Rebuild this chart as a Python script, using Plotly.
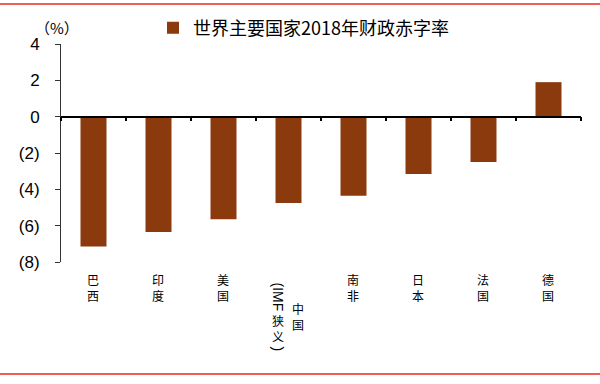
import plotly.graph_objects as go

categories = ["巴西", "印度", "美国", "中国（IMF狭义）", "南非", "日本", "法国", "德国"]
values = [-7.15, -6.35, -5.65, -4.75, -4.35, -3.15, -2.5, 1.9]
series_name = "世界主要国家2018年财政赤字率"
tick_vals = [4, 2, 0, -2, -4, -6, -8]
tick_text = ["4", "2", "0", "(2)", "(4)", "(6)", "(8)"]

BAR_COLOR = "#8B3A0E"
CJK = "Noto Sans CJK SC"
LAT = "Liberation Sans"

fig = go.Figure()
fig.add_trace(go.Bar(
    x=categories, y=values, name=series_name,
    marker=dict(color=BAR_COLOR, line=dict(width=0)),
    width=0.4, showlegend=True,
))

annotations = []
lbl_font = dict(family=CJK, size=12, color="black")
for cat in categories:
    if "（" in cat:
        main = cat[:cat.index("（")]
        paren = cat[cat.index("（") + 1:-1]          # IMF狭义
        latin = "".join(c for c in paren if c.isascii())
        cjk = "".join(c for c in paren if not c.isascii())
        annotations.append(dict(x=cat, y=0, xref="x", yref="paper", text="<br>".join(main),
                                showarrow=False, xanchor="center", yanchor="top",
                                xshift=9, yshift=-37, font=lbl_font, borderpad=0))
        annotations.append(dict(x=cat, y=0, xref="x", yref="paper", text="(" + latin,
                                showarrow=False, xanchor="center", yanchor="middle",
                                xshift=-11, yshift=-35, textangle=90, borderpad=0,
                                font=dict(family=LAT, size=14, color="black")))
        annotations.append(dict(x=cat, y=0, xref="x", yref="paper", text="<br>".join(cjk),
                                showarrow=False, xanchor="center", yanchor="top",
                                xshift=-11, yshift=-49, font=lbl_font, borderpad=0))
        annotations.append(dict(x=cat, y=0, xref="x", yref="paper", text=")",
                                showarrow=False, xanchor="center", yanchor="middle",
                                xshift=-11, yshift=-87, textangle=90, borderpad=0,
                                font=dict(family=LAT, size=14, color="black")))
    else:
        annotations.append(dict(x=cat, y=0, xref="x", yref="paper", text="<br>".join(cat),
                                showarrow=False, xanchor="center", yanchor="top",
                                xshift=-1, yshift=-8, font=lbl_font, borderpad=0))

annotations.append(dict(x=0, y=1, xref="paper", yref="paper", text="（%）",
                        showarrow=False, xanchor="center", yanchor="middle",
                        xshift=-4, yshift=17, borderpad=0,
                        font=dict(family=CJK, size=15, color="black")))

H = 218.0
W = 520.0
shapes = [
    dict(type="line", xref="paper", yref="paper", x0=-61 / W, x1=1 + 19 / W,
         y0=(262 - 4) / H, y1=(262 - 4) / H, line=dict(color="#E8291C", width=1.5)),
    dict(type="line", xref="paper", yref="paper", x0=-61 / W, x1=1 + 19 / W,
         y0=(262 - 374) / H, y1=(262 - 374) / H, line=dict(color="#E8291C", width=1.5)),
]

fig.update_layout(
    width=600, height=384,
    margin=dict(l=61, r=19, t=44, b=122, autoexpand=False),
    paper_bgcolor="white", plot_bgcolor="white",
    showlegend=True,
    legend=dict(x=(153 - 61) / W, y=(262 - 28) / H, xanchor="left", yanchor="middle",
                orientation="h", font=dict(family=CJK, size=18, color="black"),
                bgcolor="rgba(0,0,0,0)", itemwidth=30),
    annotations=annotations,
    shapes=shapes,
    bargap=0.6,
)

fig.update_xaxes(
    type="category", anchor="free", position=8 / 12,
    showline=True, linecolor="black", linewidth=1.5,
    ticks="outside", tickson="boundaries", ticklen=4, tickcolor="black", tickwidth=1.5,
    showticklabels=False, showgrid=False, zeroline=False,
)
fig.update_yaxes(
    range=[-8, 4], tickvals=tick_vals, ticktext=tick_text,
    showline=True, linecolor="#333333", linewidth=1,
    ticks="outside", ticklen=5, tickcolor="#333333",
    tickfont=dict(family=LAT, size=17, color="black"),
    ticklabelstandoff=12,
    showgrid=False, zeroline=False,
)

fig.write_html("out.html", config={"displayModeBar": False},
               post_script="document.body.style.margin='0';document.body.style.overflow='hidden';")
